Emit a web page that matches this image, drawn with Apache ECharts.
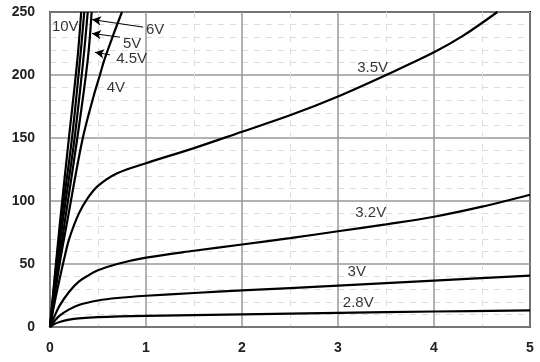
<!DOCTYPE html>
<html>
<head>
<meta charset="utf-8">
<script src="https://cdn.jsdelivr.net/npm/echarts@6/dist/echarts.min.js"></script>
<style>html,body{margin:0;padding:0;background:#fff;}#c{width:540px;height:362px;}</style>
</head>
<body>
<div id="c"></div>
<script>
// Data (Id vs Vds for several Vgs)
const xTicks = [0, 1, 2, 3, 4, 5];
const yTicks = [0, 50, 100, 150, 200, 250];

const v28 = [[0,0],[0.05,2.5],[0.1,4],[0.2,5.8],[0.3,6.8],[0.5,7.8],[1,8.8],[2,10],[3,11.2],[4,12.3],[5,13.2]];
const v30 = [[0,0],[0.05,5],[0.1,9],[0.2,14],[0.3,17.5],[0.5,21],[0.7,23],[1,24.8],[1.5,27],[2,29],[3,32.8],[4,36.8],[5,40.8]];
const v32 = [[0,0],[0.05,9],[0.1,17],[0.2,28],[0.3,36],[0.4,41],[0.5,45],[0.7,50],[1,55],[1.5,60.5],[2,65.5],[2.5,70.5],[3,76],[3.5,81.5],[4,87.5],[4.5,95.5],[5,105]];
const v35 = [[0,0],[0.05,20],[0.1,38],[0.15,55],[0.2,70],[0.3,90],[0.4,103],[0.5,112],[0.7,122],[1,130],[1.5,142],[2,155],[2.5,168],[3,183],[3.5,200],[4,218],[4.3,231],[4.66,250]];
const v40 = [[0,0],[0.1,50],[0.18,84],[0.336,148],[0.45,182],[0.52,200],[0.566,212],[0.66,232],[0.75,250]];
const v45 = [[0,0],[0.155,84],[0.281,148],[0.393,212],[0.434,250]];
const v50 = [[0,0],[0.13,82],[0.253,148],[0.347,212],[0.393,250]];
const v60 = [[0,0],[0.11,80],[0.226,148],[0.3125,212],[0.357,250]];
const v100 = [[0,0],[0.1,80],[0.2,152],[0.285,212],[0.325,250]];

// curve labels: [x, y, text]
const curveLabels = [
  [0.02, 238, '10V'],
  [1.0, 236, '6V'],
  [0.76, 225, '5V'],
  [0.69, 213, '4.5V'],
  [0.59, 190, '4V'],
  [3.2, 206, '3.5V'],
  [3.18, 90.5, '3.2V'],
  [3.10, 44, '3V'],
  [3.05, 19, '2.8V']
];
// arrows: [x1, y1, x2, y2]
const arrows = [
  [0.97, 238, 0.4375, 244],
  [0.729, 230, 0.4375, 233],
  [0.625, 216, 0.469, 218]
];

const curves = [v28, v30, v32, v35, v40, v45, v50, v60, v100];

const chart = echarts.init(document.getElementById('c'), null, {renderer: 'canvas'});
const series = curves.map(d => ({
  type: 'line', data: d, showSymbol: false, symbol: 'none',
  smooth: 0.35, clip: true,
  lineStyle: {color: '#000', width: 2.2}, silent: true, z: 3
}));
series.push({
  type: 'scatter', symbolSize: 0, silent: true, z: 5,
  data: curveLabels.map(l => ({value: [l[0], l[1]], name: l[2]})),
  label: {show: true, position: 'right', distance: 0, formatter: p => p.name,
    color: '#000', fontSize: 15, fontFamily: 'Liberation Sans, Arial, sans-serif'},
  markLine: {
    silent: true, symbol: ['none', 'arrow'], symbolSize: [7, 9],
    label: {show: false},
    lineStyle: {color: '#000', width: 1, type: 'solid'},
    data: arrows.map(a => [{coord: [a[0], a[1]]}, {coord: [a[2], a[3]]}])
  }
});

chart.setOption({
  animation: false,
  backgroundColor: '#fff',
  grid: {left: 50, right: 10, top: 12, bottom: 35, show: true, borderColor: '#000', borderWidth: 2, containLabel: false},
  xAxis: {
    type: 'value', min: 0, max: 5, interval: 1,
    axisLine: {show: true, onZero: false, lineStyle: {color: '#777', width: 2}},
    axisTick: {show: false},
    axisLabel: {color: '#222', fontSize: 14, fontWeight: 'bold', margin: 14, fontFamily: 'Liberation Sans, Arial, sans-serif',
      formatter: v => xTicks.includes(v) ? String(v) : ''},
    splitLine: {show: true, lineStyle: {color: '#999', width: 1.5}},
    minorTick: {show: false, splitNumber: 2},
    minorSplitLine: {show: true, lineStyle: {color: '#ddd', width: 1, type: [6, 6]}}
  },
  yAxis: {
    type: 'value', min: 0, max: 250, interval: 50,
    axisLine: {show: true, onZero: false, lineStyle: {color: '#777', width: 2}},
    axisTick: {show: false},
    axisLabel: {color: '#222', fontSize: 14, fontWeight: 'bold', margin: 15, fontFamily: 'Liberation Sans, Arial, sans-serif',
      formatter: v => yTicks.includes(v) ? String(v) : ''},
    splitLine: {show: true, lineStyle: {color: '#999', width: 1.5}},
    minorTick: {show: false, splitNumber: 5},
    minorSplitLine: {show: true, lineStyle: {color: '#ddd', width: 1, type: [6, 6]}}
  },
  series: series
});
</script>
</body>
</html>
